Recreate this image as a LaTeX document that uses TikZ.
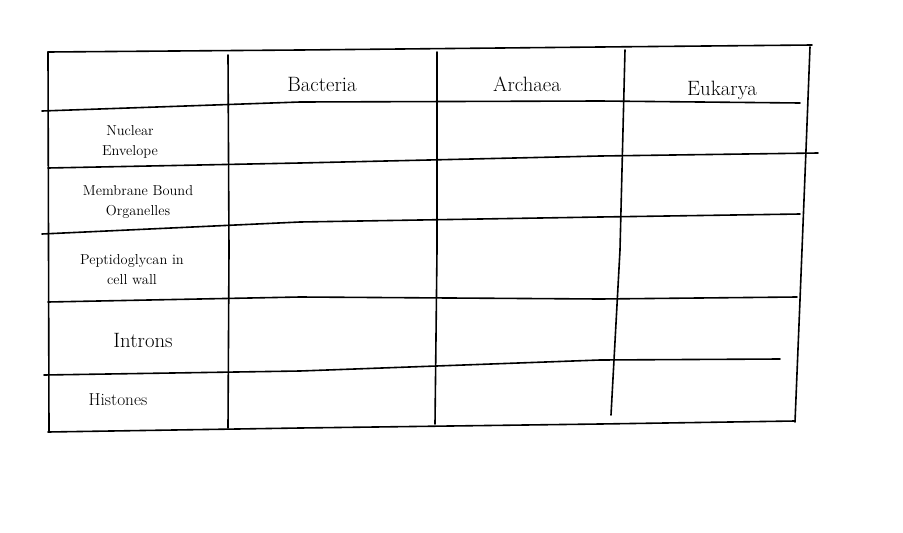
\documentclass[tikz,border=0pt]{standalone}
\begin{document}
\begin{tikzpicture}[x=1pt,y=-1pt,line width=1.6pt,line cap=round,
  lbl/.style={font=\Large,align=center,inner sep=1pt},
  hdr/.style={font=\huge,inner sep=1pt}]
\useasboundingbox[fill=white] (0,0) rectangle (903,533);
% outer frame
\draw (48,52) -- (300,50) -- (600,47) -- (812,45);
\draw (48,52) -- (49,432);
\draw (48,432) -- (300,428) -- (600,424) -- (795,421);
\draw (810,47) -- (806,150) -- (800,300) -- (795,422);
% column lines
\draw (228,55) -- (229,250) -- (228,428);
\draw (437,52) -- (437,250) -- (435,424);
\draw (625,50) -- (620,250) -- (611,415);
% row lines
\draw (42,111) -- (300,102) -- (600,101) -- (800,103);
\draw (48,168) -- (300,163) -- (600,156) -- (818,153);
\draw (42,234) -- (300,222) -- (600,217) -- (800,214);
\draw (48,302) -- (300,297) -- (600,299) -- (797,297);
\draw (44,375) -- (300,371) -- (600,360) -- (780,359);
% headers
\node[hdr] (b) at (322,84) {Bacteria};
\node[hdr] (a) at (527,84) {Archaea};
\node[hdr] (e) at (722,90) {Eukarya};
% row labels
\node[lbl] (r1) at (130,142) {Nuclear\\[2pt]Envelope};
\node[lbl] (r2) at (138,202) {Membrane Bound\\[2pt]Organelles};
\node[lbl] (r3) at (132,270) {Peptidoglycan in\\[2pt]cell wall};
\node[lbl,font=\huge] (r4) at (143,340) {Introns};
\node[lbl,font=\LARGE] (r5) at (118,400) {Histones};
\end{tikzpicture}
\end{document}
